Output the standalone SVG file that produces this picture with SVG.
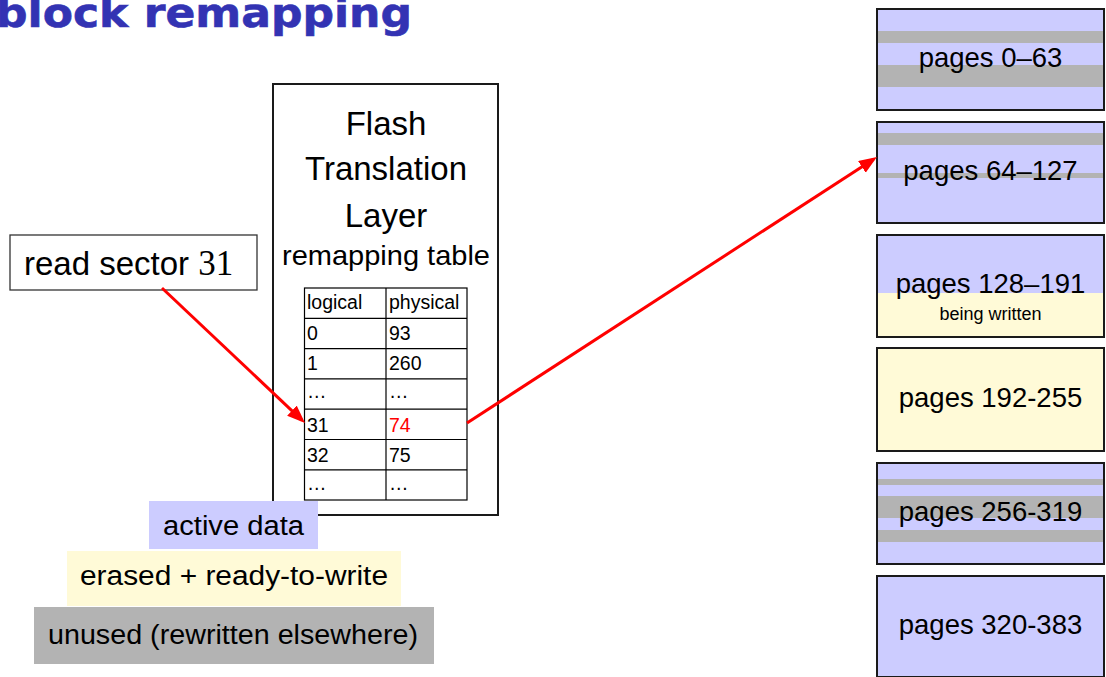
<svg xmlns="http://www.w3.org/2000/svg" width="1106" height="677" viewBox="0 0 1106 677">
<style>
.t{font-family:"Liberation Sans","DejaVu Sans",sans-serif;fill:#000}
.blk{stroke:#1a1a1a;stroke-width:2;fill:none}
.blue{fill:#CCCCFF}
.yel{fill:#FFFAD7}
.gray{fill:#B3B3B3}
.cell{fill:none;stroke:#000;stroke-width:1.2}
.arr{stroke:#FF0000;stroke-width:3;fill:none}
</style>
<defs>
<marker id="ah" markerUnits="userSpaceOnUse" markerWidth="20" markerHeight="16" refX="14" refY="7" orient="auto">
<path d="M0,0 L18,7 L0,14 z" fill="#FF0000"/>
</marker>
</defs>
<rect width="1106" height="677" fill="#FFFFFF"/>
<text x="-4" y="27" font-family="'DejaVu Sans',sans-serif" font-weight="bold" font-size="40" fill="#3333B3" stroke="#3333B3" stroke-width="0.6" textLength="416" lengthAdjust="spacingAndGlyphs">block remapping</text>

<g id="ftl">
<rect x="273" y="84" width="225" height="431" fill="#FFFFFF" stroke="#1a1a1a" stroke-width="2"/>
<text class="t" x="386" y="135" font-size="33" text-anchor="middle">Flash</text>
<text class="t" x="386" y="180" font-size="33" text-anchor="middle">Translation</text>
<text class="t" x="386" y="227" font-size="33" text-anchor="middle">Layer</text>
<text class="t" x="386" y="265" font-size="28" text-anchor="middle" textLength="208" lengthAdjust="spacingAndGlyphs">remapping table</text>
</g>

<g id="table">
<rect class="cell" x="304.5" y="288" width="162.5" height="212"/>
<line class="cell" x1="386" y1="288" x2="386" y2="500"/>
<line class="cell" x1="304.5" y1="318.3" x2="467" y2="318.3"/>
<line class="cell" x1="304.5" y1="348.6" x2="467" y2="348.6"/>
<line class="cell" x1="304.5" y1="378.9" x2="467" y2="378.9"/>
<line class="cell" x1="304.5" y1="409.2" x2="467" y2="409.2"/>
<line class="cell" x1="304.5" y1="439.5" x2="467" y2="439.5"/>
<line class="cell" x1="304.5" y1="469.8" x2="467" y2="469.8"/>
<g class="t" font-size="19.5">
<text x="307" y="309">logical</text><text x="389" y="309">physical</text>
<text x="307" y="340">0</text><text x="389" y="340">93</text>
<text x="307" y="370">1</text><text x="389" y="370">260</text>
<text x="307" y="398">…</text><text x="389" y="398">…</text>
<text x="307" y="432">31</text><text x="389" y="432" fill="#FF0000" style="fill:#FF0000">74</text>
<text x="307" y="462">32</text><text x="389" y="462">75</text>
<text x="307" y="490">…</text><text x="389" y="490">…</text>
</g>
</g>

<g id="read">
<rect x="10" y="235" width="247" height="55" fill="#FFFFFF" stroke="#333" stroke-width="1.3"/>
<text class="t" x="24" y="275" font-size="33">read sector <tspan font-family="'Liberation Serif',serif" font-size="35">31</tspan></text>
</g>

<g id="legend-active">
<rect class="blue" x="149" y="501" width="169" height="48"/>
<text class="t" x="233.5" y="535" font-size="27" text-anchor="middle" textLength="141" lengthAdjust="spacingAndGlyphs">active data</text>
</g>
<g id="legend-erased">
<rect class="yel" x="67" y="551" width="334" height="55"/>
<text class="t" x="234" y="585" font-size="27" text-anchor="middle" textLength="308" lengthAdjust="spacingAndGlyphs">erased + ready-to-write</text>
</g>
<g id="legend-unused">
<rect class="gray" x="34" y="607" width="400" height="57"/>
<text class="t" x="233" y="644" font-size="27" text-anchor="middle" textLength="370" lengthAdjust="spacingAndGlyphs">unused (rewritten elsewhere)</text>
</g>

<g id="block0">
<rect class="blue" x="877" y="9" width="227" height="101"/>
<rect class="gray" x="877" y="31" width="227" height="12"/>
<rect class="gray" x="877" y="65" width="227" height="22"/>
<rect class="blk" x="877" y="9" width="227" height="101"/>
<text class="t" x="990.5" y="67" font-size="27.5" text-anchor="middle">pages 0–63</text>
</g>
<g id="block1">
<rect class="blue" x="877" y="122" width="227" height="101"/>
<rect class="gray" x="877" y="133" width="227" height="12"/>
<rect class="gray" x="877" y="173" width="227" height="5"/>
<rect class="blk" x="877" y="122" width="227" height="101"/>
<text class="t" x="990.5" y="180" font-size="27.5" text-anchor="middle">pages 64–127</text>
</g>
<g id="block2">
<rect class="blue" x="877" y="235" width="227" height="58"/>
<rect class="yel" x="877" y="293" width="227" height="44"/>
<rect class="blk" x="877" y="235" width="227" height="102"/>
<text class="t" x="990.5" y="293" font-size="27.5" text-anchor="middle">pages 128–191</text>
<text class="t" x="990.5" y="320" font-size="18" text-anchor="middle">being written</text>
</g>
<g id="block3">
<rect class="yel" x="877" y="348" width="227" height="103"/>
<rect class="blk" x="877" y="348" width="227" height="103"/>
<text class="t" x="990.5" y="407" font-size="27.5" text-anchor="middle">pages 192-255</text>
</g>
<g id="block4">
<rect class="blue" x="877" y="463" width="227" height="101"/>
<rect class="gray" x="877" y="479" width="227" height="6"/>
<rect class="gray" x="877" y="496" width="227" height="22"/>
<rect class="gray" x="877" y="530" width="227" height="12"/>
<rect class="blk" x="877" y="463" width="227" height="101"/>
<text class="t" x="990.5" y="521" font-size="27.5" text-anchor="middle">pages 256-319</text>
</g>
<g id="block5">
<rect class="blue" x="877" y="576" width="227" height="101"/>
<rect class="blk" x="877" y="576" width="227" height="101"/>
<text class="t" x="990.5" y="634" font-size="27.5" text-anchor="middle">pages 320-383</text>
</g>

<g id="connectors">
<line class="arr" x1="162" y1="288" x2="302.1" y2="420.3" marker-end="url(#ah)"/>
<line class="arr" x1="467" y1="423" x2="873.6" y2="159.2" marker-end="url(#ah)"/>
</g>
</svg>
